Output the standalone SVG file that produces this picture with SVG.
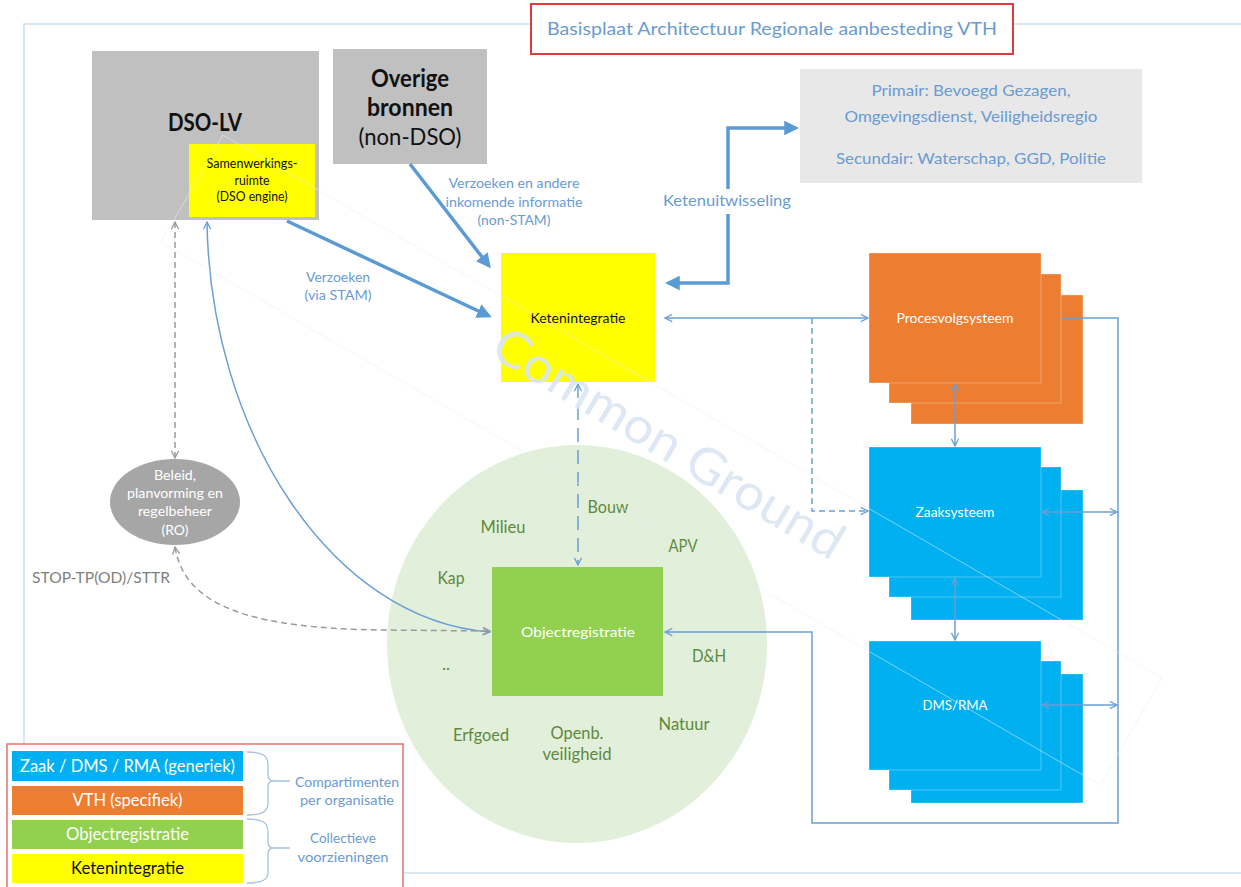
<svg xmlns="http://www.w3.org/2000/svg" width="1241" height="887" viewBox="0 0 1241 887">
<style>
text{font-family:Lato,"Liberation Sans",sans-serif;}
.c{text-anchor:middle;}
.blue{fill:#6a9bd2;}
.grn{fill:#5d8a3c;font-size:17px;}
.wht{fill:#ffffff;}
.blk{fill:#111111;}
.thick{fill:none;stroke:#5b9bd5;stroke-width:3.5;}
.thin{fill:none;stroke:#6a9fd6;stroke-width:1.5;}
.gdash{fill:none;stroke:#9a9a9a;stroke-width:1.5;stroke-dasharray:6 4;}
.orng{fill:#ed7d31;stroke:rgba(255,255,255,0.3);stroke-width:1;}
.bl{fill:#00b0f0;stroke:rgba(255,255,255,0.3);stroke-width:1;}
</style>
<defs>
<marker id="ah" viewBox="0 0 10 10" refX="8" refY="5" markerWidth="4.2" markerHeight="4.2" orient="auto-start-reverse"><path d="M0,0 L10,5 L0,10 z" fill="#5b9bd5"/></marker>
<marker id="oa" viewBox="0 0 10 10" refX="9" refY="5" markerWidth="9" markerHeight="9" markerUnits="userSpaceOnUse" orient="auto-start-reverse"><path d="M1,1 L9,5 L1,9" fill="none" stroke="#6a9fd6" stroke-width="1.4"/></marker>
<marker id="ga" viewBox="0 0 10 10" refX="9" refY="5" markerWidth="9" markerHeight="9" markerUnits="userSpaceOnUse" orient="auto-start-reverse"><path d="M1,1 L9,5 L1,9" fill="none" stroke="#9a9a9a" stroke-width="1.4"/></marker>
</defs>
<rect width="1241" height="887" fill="#ffffff"/>
<!-- frame -->
<rect x="24" y="24" width="1240" height="849" fill="none" stroke="#cddff0" stroke-width="1.5"/>
<!-- title -->
<g id="title">
<rect x="531" y="4" width="482" height="50" fill="#ffffff" stroke="#e03a3a" stroke-width="2"/>
<text x="772" y="35" class="c blue" font-size="18" textLength="450" lengthAdjust="spacingAndGlyphs">Basisplaat Architectuur Regionale aanbesteding VTH</text>
</g>
<!-- circle -->
<g id="circle">
<ellipse cx="577" cy="644" rx="190" ry="199" fill="#e2efda"/>
</g>
<g id="dso-lv">
<rect x="92" y="51" width="227" height="169" fill="#c0c0c0"/>
<text x="205" y="131" class="c blk" font-size="25" font-weight="bold" textLength="74" lengthAdjust="spacingAndGlyphs">DSO-LV</text>
</g>
<g id="samenwerkingsruimte">
<rect x="189" y="144" width="126" height="73" fill="#ffff00"/>
<text x="252" y="168" class="c blk" font-size="12.5" textLength="91" lengthAdjust="spacingAndGlyphs">Samenwerkings-</text>
<text x="252" y="185" class="c blk" font-size="12.5" textLength="35" lengthAdjust="spacingAndGlyphs">ruimte</text>
<text x="252" y="201" class="c blk" font-size="12.5" textLength="71" lengthAdjust="spacingAndGlyphs">(DSO engine)</text>
</g>
<g id="overige">
<rect x="333" y="49" width="154" height="115" fill="#c0c0c0"/>
<text x="410" y="87" class="c blk" font-size="24" font-weight="bold" textLength="78" lengthAdjust="spacingAndGlyphs">Overige</text>
<text x="410" y="116" class="c blk" font-size="24" font-weight="bold" textLength="86" lengthAdjust="spacingAndGlyphs">bronnen</text>
<text x="410" y="145" class="c blk" font-size="24" textLength="103" lengthAdjust="spacingAndGlyphs">(non-DSO)</text>
</g>
<g id="partijen">
<rect x="800" y="69" width="342" height="114" fill="#e8e8e8"/>
<text x="971" y="96" class="c blue" font-size="15" textLength="199" lengthAdjust="spacingAndGlyphs">Primair: Bevoegd Gezagen,</text>
<text x="971" y="122" class="c blue" font-size="15" textLength="253" lengthAdjust="spacingAndGlyphs">Omgevingsdienst, Veiligheidsregio</text>
<text x="971" y="164" class="c blue" font-size="15" textLength="270" lengthAdjust="spacingAndGlyphs">Secundair: Waterschap, GGD, Politie</text>
</g>
<g id="ketenintegratie">
<rect x="501" y="253" width="154" height="129" fill="#ffff00"/>
<text x="578" y="322.5" class="c blk" font-size="13" textLength="95" lengthAdjust="spacingAndGlyphs">Ketenintegratie</text>
</g>
<g id="beleid">
<ellipse cx="175" cy="502" rx="65" ry="43" fill="#a6a6a6"/>
<text x="175" y="480" class="c wht" font-size="14" textLength="42" lengthAdjust="spacingAndGlyphs">Beleid,</text>
<text x="175" y="498" class="c wht" font-size="14" textLength="96" lengthAdjust="spacingAndGlyphs">planvorming en</text>
<text x="175" y="516" class="c wht" font-size="14" textLength="74" lengthAdjust="spacingAndGlyphs">regelbeheer</text>
<text x="175" y="535" class="c wht" font-size="14" textLength="27" lengthAdjust="spacingAndGlyphs">(RO)</text>
</g>
<g id="objectregistratie">
<rect x="492" y="567" width="171" height="129" fill="#92d050"/>
<text x="578" y="637" class="c wht" font-size="14" textLength="114" lengthAdjust="spacingAndGlyphs">Objectregistratie</text>
</g>
<g id="domeinen">
<text x="608" y="513" class="c grn" textLength="41" lengthAdjust="spacingAndGlyphs">Bouw</text>
<text x="503" y="533" class="c grn" textLength="45" lengthAdjust="spacingAndGlyphs">Milieu</text>
<text x="683" y="552" class="c grn" textLength="29" lengthAdjust="spacingAndGlyphs">APV</text>
<text x="451" y="584" class="c grn" textLength="27" lengthAdjust="spacingAndGlyphs">Kap</text>
<text x="709" y="662" class="c grn" textLength="34" lengthAdjust="spacingAndGlyphs">D&amp;H</text>
<text x="446" y="670" class="c grn">..</text>
<text x="684" y="730" class="c grn" textLength="51" lengthAdjust="spacingAndGlyphs">Natuur</text>
<text x="481" y="741" class="c grn" textLength="56" lengthAdjust="spacingAndGlyphs">Erfgoed</text>
<text x="577" y="739" class="c grn" textLength="53" lengthAdjust="spacingAndGlyphs">Openb.</text>
<text x="577" y="760" class="c grn" textLength="69" lengthAdjust="spacingAndGlyphs">veiligheid</text>
</g>
<g id="procesvolgsysteem">
<rect x="911" y="295" width="172" height="129" class="orng"/>
<rect x="889" y="274" width="172" height="129" class="orng"/>
<rect x="869" y="253" width="172" height="130" class="orng"/>
<text x="955" y="323" class="c wht" font-size="14" textLength="117" lengthAdjust="spacingAndGlyphs">Procesvolgsysteem</text>
</g>
<g id="zaaksysteem">
<rect x="911" y="490" width="172" height="130" class="bl"/>
<rect x="889" y="467" width="172" height="130" class="bl"/>
<rect x="869" y="447" width="172" height="130" class="bl"/>
<text x="955" y="517" class="c wht" font-size="14" textLength="79" lengthAdjust="spacingAndGlyphs">Zaaksysteem</text>
</g>
<g id="dmsrma">
<rect x="911" y="674" width="172" height="129" class="bl"/>
<rect x="889" y="661" width="172" height="129" class="bl"/>
<rect x="869" y="641" width="172" height="129" class="bl"/>
<text x="955" y="710" class="c wht" font-size="14" textLength="65" lengthAdjust="spacingAndGlyphs">DMS/RMA</text>
</g>
<g id="connectors">
<path class="thick" d="M287,221 L489,316" marker-end="url(#ah)"/>
<path class="thick" d="M410,164 L489,266" marker-end="url(#ah)"/>
<path class="thick" d="M668,283 H728 V214" marker-start="url(#ah)"/>
<path class="thick" d="M728,189 V128 H796" marker-end="url(#ah)"/>
<path class="thin" d="M665,318 H868" marker-start="url(#oa)" marker-end="url(#oa)"/>
<path class="thin" d="M812,318 V511 H868" stroke-dasharray="6 4" marker-end="url(#oa)"/>
<path class="thin" d="M578,384 V565" stroke-dasharray="14 8" marker-start="url(#oa)" marker-end="url(#oa)"/>
<path class="thin" d="M1062,318 H1118 V823 H812 V632 H665" marker-end="url(#oa)"/>
<path class="thin" d="M1042,512 H1117" marker-start="url(#oa)" marker-end="url(#oa)"/>
<path class="thin" d="M1042,705 H1117" marker-start="url(#oa)" marker-end="url(#oa)"/>
<path class="thin" d="M955,384 V446" marker-start="url(#oa)" marker-end="url(#oa)"/>
<path class="thin" d="M955,578 V640" marker-start="url(#oa)" marker-end="url(#oa)"/>
<path class="thin" d="M207,222 C210,430 330,620 490,632" marker-start="url(#oa)" marker-end="url(#oa)"/>
<path class="gdash" d="M175,222 V458" marker-start="url(#ga)" marker-end="url(#ga)"/>
<path class="gdash" d="M175,547 C185,610 260,628 380,630 L490,631" marker-start="url(#ga)" marker-end="url(#ga)"/>
</g>
<g id="labels">
<text x="514" y="187.5" class="c blue" font-size="13" textLength="131" lengthAdjust="spacingAndGlyphs">Verzoeken en andere</text>
<text x="514" y="206.5" class="c blue" font-size="13" textLength="137" lengthAdjust="spacingAndGlyphs">inkomende informatie</text>
<text x="514" y="224.5" class="c blue" font-size="13" textLength="73" lengthAdjust="spacingAndGlyphs">(non-STAM)</text>
<text x="338" y="281.5" class="c blue" font-size="13" textLength="64" lengthAdjust="spacingAndGlyphs">Verzoeken</text>
<text x="338" y="299.5" class="c blue" font-size="13" textLength="67" lengthAdjust="spacingAndGlyphs">(via STAM)</text>
<text x="727" y="205.5" class="c blue" font-size="16" textLength="128" lengthAdjust="spacingAndGlyphs">Ketenuitwisseling</text>
<text x="101" y="582.5" class="c" fill="#7f7f7f" font-size="16" textLength="138" lengthAdjust="spacingAndGlyphs">STOP-TP(OD)/STTR</text>
</g>
<!-- watermark -->
<g id="watermark">
<polygon points="223,135 1162,678 1100,785 161,242" fill="none" stroke="#ffffff" stroke-opacity="0.25" stroke-width="1"/>
<polygon points="223,135 1162,678 1100,785 161,242" fill="none" stroke="#dde6f0" stroke-opacity="0.35" stroke-width="1"/>
<text x="0" y="0" transform="translate(660,458) rotate(31)" class="c" fill="#d9e5f3" fill-opacity="0.9" font-size="50" textLength="400" lengthAdjust="spacingAndGlyphs">Common Ground</text>
</g>
<g id="legend">
<rect x="7" y="744" width="396" height="150" fill="#ffffff" stroke="#e47272" stroke-width="1.5"/>
<rect x="12" y="751" width="231" height="30" fill="#00b0f0"/>
<rect x="12" y="786" width="231" height="29" fill="#ed7d31"/>
<rect x="12" y="820" width="231" height="29" fill="#92d050"/>
<rect x="12" y="854" width="231" height="29" fill="#ffff00"/>
<text x="127.5" y="772" class="c wht" font-size="17" textLength="215" lengthAdjust="spacingAndGlyphs">Zaak / DMS / RMA (generiek)</text>
<text x="127.5" y="806" class="c wht" font-size="17" textLength="110" lengthAdjust="spacingAndGlyphs">VTH (specifiek)</text>
<text x="127.5" y="840" class="c wht" font-size="17" textLength="123" lengthAdjust="spacingAndGlyphs">Objectregistratie</text>
<text x="127.5" y="874" class="c blk" font-size="17" textLength="113" lengthAdjust="spacingAndGlyphs">Ketenintegratie</text>
<path d="M247,752 C262,752 268,755 268,765 V775 Q268,781 274,781 H290 M274,781 Q268,781 268,787 V803 C268,812 262,815 247,815" fill="none" stroke="#a9c1dd" stroke-width="1.3"/>
<path d="M247,819 C262,819 268,822 268,832 V842 Q268,848 274,848 H290 M274,848 Q268,848 268,854 V872 C268,880 262,883 247,883" fill="none" stroke="#a9c1dd" stroke-width="1.3"/>
<text x="347" y="787" class="c blue" font-size="13.5" textLength="104" lengthAdjust="spacingAndGlyphs">Compartimenten</text>
<text x="347" y="805" class="c blue" font-size="13.5" textLength="94" lengthAdjust="spacingAndGlyphs">per organisatie</text>
<text x="343" y="843" class="c blue" font-size="13.5" textLength="66" lengthAdjust="spacingAndGlyphs">Collectieve</text>
<text x="343" y="862" class="c blue" font-size="13.5" textLength="91" lengthAdjust="spacingAndGlyphs">voorzieningen</text>
</g>
</svg>
